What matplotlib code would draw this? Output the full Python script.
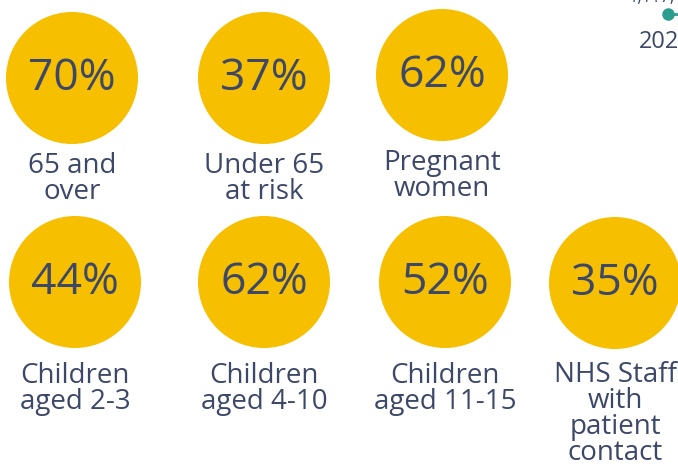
import matplotlib.pyplot as plt
from matplotlib.patches import Circle

# Uptake figures for each group
groups = ["65 and\nover", "Under 65\nat risk", "Pregnant\nwomen",
          "Children\naged 2-3", "Children\naged 4-10", "Children\naged 11-15",
          "NHS Staff\nwith\npatient\ncontact"]
uptake = [70, 37, 62, 44, 62, 52, 35]

# Where each badge sits on the page (pixels)
centres_x = [72, 264, 442, 75, 264, 445, 615]
centres_y = [78, 78, 75, 282, 282, 282, 283]
label_top = [152, 152, 149, 362, 362, 362, 361]

# Trend chart fragment peeking in at the corner
trend_value = "1,117,"
trend_year = "2020"

plt.rcParams['font.family'] = ['Open Sans', 'DejaVu Sans']

fig = plt.figure(figsize=(6.78, 4.66), dpi=100)
ax = fig.add_axes([0, 0, 1, 1])
ax.set_xlim(0, 678)
ax.set_ylim(466, 0)
ax.set_aspect('equal')
ax.axis('off')

yellow = '#f6bf00'
navy = '#3d4869'

for lab, val, cx, cy, ly in zip(groups, uptake, centres_x, centres_y, label_top):
    ax.add_patch(Circle((cx, cy), 66, color=yellow, lw=0))
    ax.text(cx, cy + 1, f"{val}%", ha='center', va='center',
            fontsize=32, color=navy)
    ax.text(cx, ly, lab, ha='center', va='top', fontsize=20,
            color=navy, linespacing=0.9)

# corner fragment
ax.plot([668, 700], [14, 14], color='#2a9d8f', lw=2)
ax.plot(668, 14, 'o', color='#2a9d8f', ms=8)
ax.text(652, -2, trend_value, ha='center', va='center', fontsize=12, color=navy)
ax.text(639, 42, trend_year, ha='left', va='center', fontsize=17, color=navy)

fig.savefig('out.png', dpi=100)
